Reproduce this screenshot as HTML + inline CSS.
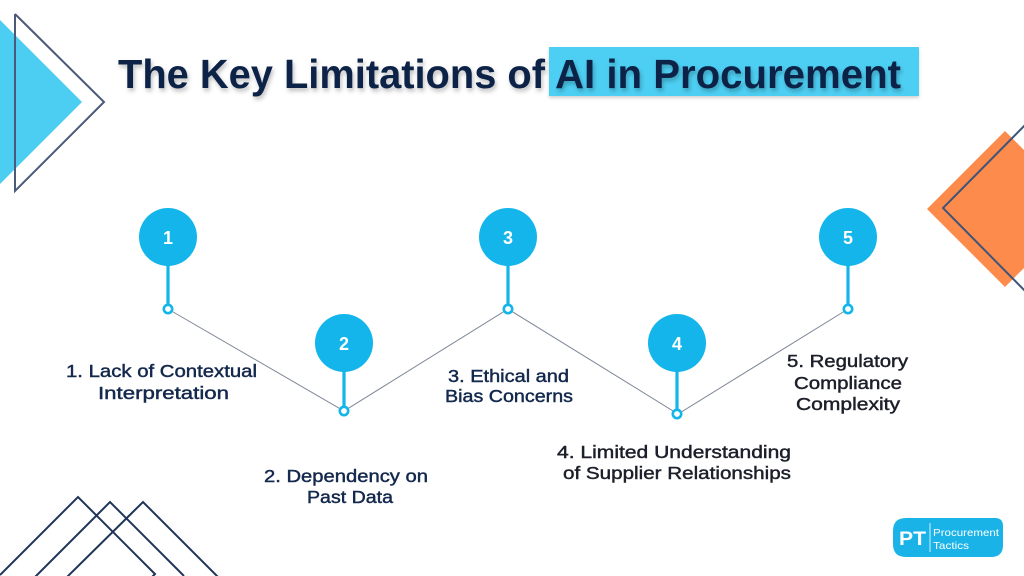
<!DOCTYPE html>
<html>
<head>
<meta charset="utf-8">
<style>
  html,body{margin:0;padding:0;background:#fff;}
  body{width:1024px;height:576px;overflow:hidden;}
  svg{display:block;}
  .lbl{font-family:"Liberation Sans",sans-serif;font-size:17.5px;stroke-width:0.45px;}
  .nav{fill:#13284c;stroke:#13284c;}
  .blk{fill:#1c1f2a;stroke:#1c1f2a;}
  .num{font-family:"Liberation Sans",sans-serif;font-weight:bold;font-size:18px;fill:#fff;text-anchor:middle;}
</style>
</head>
<body>
<svg width="1024" height="576" viewBox="0 0 1024 576" xmlns="http://www.w3.org/2000/svg">
  <defs>
    <filter id="sh" x="-5%" y="-30%" width="110%" height="160%">
      <feDropShadow dx="1.5" dy="3" stdDeviation="2" flood-color="#000" flood-opacity="0.25"/>
    </filter>
    <filter id="sh2" x="-5%" y="-30%" width="110%" height="160%">
      <feDropShadow dx="0" dy="2" stdDeviation="1.5" flood-color="#000" flood-opacity="0.18"/>
    </filter>
  </defs>

  <!-- left triangle decorations -->
  <polygon points="0,20 82,102 0,184" fill="#4ccef3"/>
  <polyline points="15,14 104,102 15,191 15,14" fill="none" stroke="#4a5a78" stroke-width="2"/>

  <!-- right orange diamond -->
  <polygon points="927,209 1005,131 1083,209 1005,287" fill="#fd8b4c"/>
  <polyline points="1030,120 943,208 1030,296" fill="none" stroke="#3f5577" stroke-width="2"/>

  <!-- bottom-left chevrons -->
  <g fill="none" stroke="#1e3557" stroke-width="2">
    <polyline points="0,575 78,497 155,574 152,577"/>
    <polyline points="34,578 110,502 184,576"/>
    <polyline points="66,578 143,502 219,578"/>
  </g>

  <!-- title -->
  <rect x="549" y="47" width="370" height="49" fill="#4dcff3" filter="url(#sh2)"/>
  <g filter="url(#sh)">
    <text x="118" y="88" font-family="Liberation Sans, sans-serif" font-weight="bold" font-size="41" fill="#0c2347" textLength="427" lengthAdjust="spacingAndGlyphs">The Key Limitations of</text>
    <text x="555" y="88" font-family="Liberation Sans, sans-serif" font-weight="bold" font-size="41" fill="#0c2347" textLength="346" lengthAdjust="spacingAndGlyphs">AI in Procurement</text>
  </g>

  <!-- connector zigzag -->
  <polyline points="168,309 344,411 508,309 678,414 848,309" fill="none" stroke="#7d8796" stroke-width="1"/>

  <!-- nodes -->
  <g fill="#13b5ea">
    <circle cx="168" cy="237" r="29"/>
    <circle cx="344" cy="343" r="29"/>
    <circle cx="508" cy="237" r="29"/>
    <circle cx="677" cy="343" r="29"/>
    <circle cx="848" cy="237" r="29"/>
  </g>
  <g stroke="#13b5ea" stroke-width="3.2">
    <line x1="168" y1="264" x2="168" y2="305"/>
    <line x1="344" y1="370" x2="344" y2="407"/>
    <line x1="508" y1="264" x2="508" y2="305"/>
    <line x1="677" y1="370" x2="677" y2="410"/>
    <line x1="848" y1="264" x2="848" y2="305"/>
  </g>
  <g fill="#fff" stroke="#13b5ea" stroke-width="2.6">
    <circle cx="168" cy="309" r="4.2"/>
    <circle cx="344" cy="411" r="4.2"/>
    <circle cx="508" cy="309" r="4.2"/>
    <circle cx="677" cy="414" r="4.2"/>
    <circle cx="848" cy="309" r="4.2"/>
  </g>
  <text class="num" x="168" y="244">1</text>
  <text class="num" x="344" y="350">2</text>
  <text class="num" x="508" y="244">3</text>
  <text class="num" x="677" y="350">4</text>
  <text class="num" x="848" y="244">5</text>

  <!-- labels -->
  <text class="lbl nav" x="66" y="377" textLength="191" lengthAdjust="spacingAndGlyphs">1. Lack of Contextual</text>
  <text class="lbl nav" x="98" y="399" textLength="131" lengthAdjust="spacingAndGlyphs">Interpretation</text>

  <text class="lbl nav" x="264" y="482" textLength="164" lengthAdjust="spacingAndGlyphs">2. Dependency on</text>
  <text class="lbl nav" x="307" y="503" textLength="86" lengthAdjust="spacingAndGlyphs">Past Data</text>

  <text class="lbl nav" x="448" y="382" textLength="121" lengthAdjust="spacingAndGlyphs">3. Ethical and</text>
  <text class="lbl nav" x="445" y="402" textLength="128" lengthAdjust="spacingAndGlyphs">Bias Concerns</text>

  <text class="lbl blk" x="557" y="458" textLength="234" lengthAdjust="spacingAndGlyphs">4. Limited Understanding</text>
  <text class="lbl blk" x="563" y="479" textLength="228" lengthAdjust="spacingAndGlyphs">of Supplier Relationships</text>

  <text class="lbl blk" x="787" y="367" textLength="121" lengthAdjust="spacingAndGlyphs">5. Regulatory</text>
  <text class="lbl blk" x="794" y="389" textLength="108" lengthAdjust="spacingAndGlyphs">Compliance</text>
  <text class="lbl blk" x="796" y="410" textLength="104" lengthAdjust="spacingAndGlyphs">Complexity</text>

  <!-- logo -->
  <path d="M906,518 H995 Q1003,518 1003,526 V545 Q1003,557 991,557 H906 Q893,557 893,544 V531 Q893,518 906,518 Z" fill="#1ab3e8"/>
  <text x="899" y="545" font-family="Liberation Sans, sans-serif" font-weight="bold" font-size="19" fill="#fff" textLength="27" lengthAdjust="spacingAndGlyphs">PT</text>
  <line x1="930" y1="523" x2="930" y2="552" stroke="#fff" stroke-width="0.8"/>
  <text x="933" y="536" font-family="Liberation Sans, sans-serif" font-size="10.5" fill="#fff" textLength="66" lengthAdjust="spacingAndGlyphs">Procurement</text>
  <text x="933" y="549" font-family="Liberation Sans, sans-serif" font-size="10.5" fill="#fff" textLength="36" lengthAdjust="spacingAndGlyphs">Tactics</text>
</svg>
</body>
</html>
